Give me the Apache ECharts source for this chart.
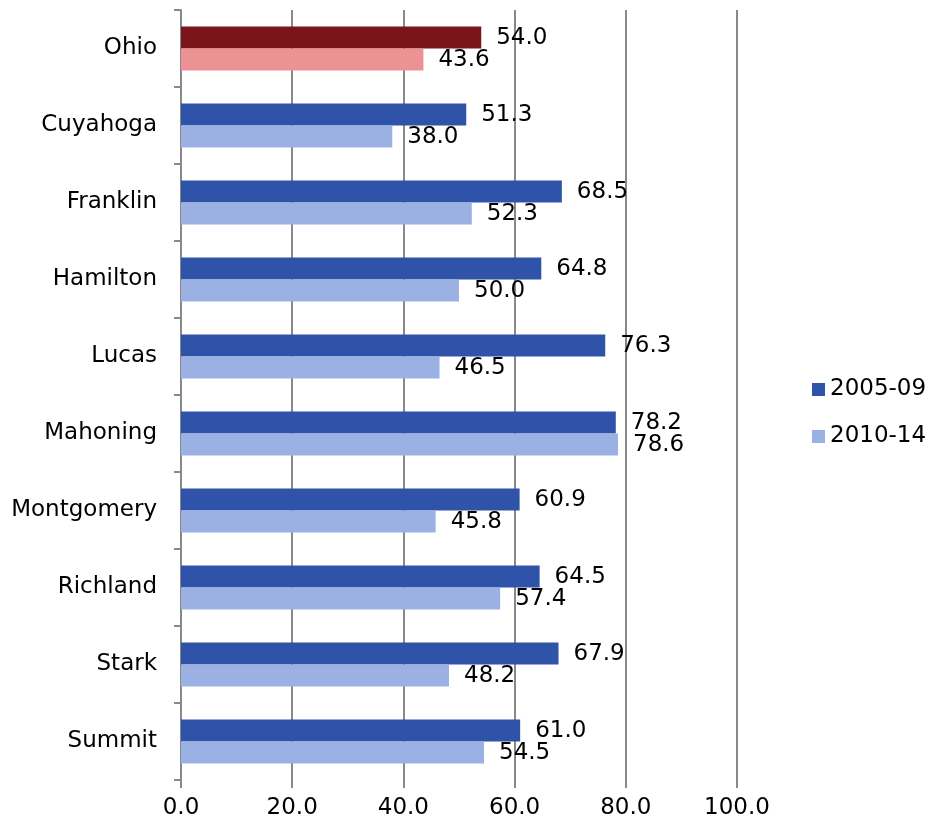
<!DOCTYPE html>
<html lang="en">
<head>
    <meta charset="UTF-8">
    <title>Chart</title>
    <script src="https://cdn.jsdelivr.net/npm/echarts@6/dist/echarts.min.js"></script>
    <style>
        html, body { margin: 0; padding: 0; background: #fff; }
        #main { width: 931px; height: 829px; }
    </style>
</head>
<body>
<div id="main"></div>
<script>
    var counties = ['Ohio', 'Cuyahoga', 'Franklin', 'Hamilton', 'Lucas', 'Mahoning', 'Montgomery', 'Richland', 'Stark', 'Summit'];
    var period1 = [54.0, 51.3, 68.5, 64.8, 76.3, 78.2, 60.9, 64.5, 67.9, 61.0];
    var period2 = [43.6, 38.0, 52.3, 50.0, 46.5, 78.6, 45.8, 57.4, 48.2, 54.5];
    var seriesNames = ['2005-09', '2010-14'];

    var font = 'DejaVu Sans';
    var fs = 23;

    // Ohio gets its own red colors
    function build(values, ohioColor) {
        return values.map(function (v, i) {
            if (counties[i] === 'Ohio') {
                return { value: v, itemStyle: { color: ohioColor } };
            }
            return v;
        });
    }

    function valueLabel() {
        return {
            show: true, position: 'right', distance: 15, offset: [0, 1],
            fontFamily: font, fontSize: fs, color: '#000',
            formatter: function (p) { return p.value.toFixed(1); }
        };
    }

    var myChart = echarts.init(document.getElementById('main'));
    var option = {
        animation: false,
        backgroundColor: '#fff',
        grid: { left: 181, right: 194, top: 10, bottom: 49 },
        legend: {
            orient: 'vertical',
            left: 807,
            top: 373,
            itemWidth: 13,
            itemHeight: 13,
            itemGap: 24,
            itemStyle: { borderWidth: 0 },
            icon: 'rect',
            textStyle: { fontFamily: font, fontSize: fs, color: '#000' },
            data: seriesNames
        },
        xAxis: {
            type: 'value',
            min: 0,
            max: 100,
            interval: 20,
            axisLine: { show: false },
            axisTick: { show: true, length: 8, lineStyle: { color: '#888', width: 2 } },
            splitLine: { lineStyle: { color: '#888', width: 2 } },
            axisLabel: {
                fontFamily: font, fontSize: fs, color: '#000', margin: 17,
                formatter: function (v) { return v.toFixed(1); }
            }
        },
        yAxis: {
            type: 'category',
            inverse: true,
            data: counties,
            axisLine: { show: true, lineStyle: { color: '#888', width: 2 } },
            axisTick: { show: true, length: 7, lineStyle: { color: '#888', width: 2 } },
            axisLabel: { fontFamily: font, fontSize: fs, color: '#000', margin: 24 }
        },
        series: [
            {
                name: seriesNames[0],
                type: 'bar',
                data: build(period1, '#7A161B'),
                itemStyle: { color: '#2E53A8' },
                barGap: '0%',
                barCategoryGap: '43%',
                label: valueLabel()
            },
            {
                name: seriesNames[1],
                type: 'bar',
                data: build(period2, '#EC9294'),
                itemStyle: { color: '#9BB1E3' },
                barGap: '0%',
                barCategoryGap: '43%',
                label: valueLabel()
            }
        ]
    };
    myChart.setOption(option);
</script>
</body>
</html>
